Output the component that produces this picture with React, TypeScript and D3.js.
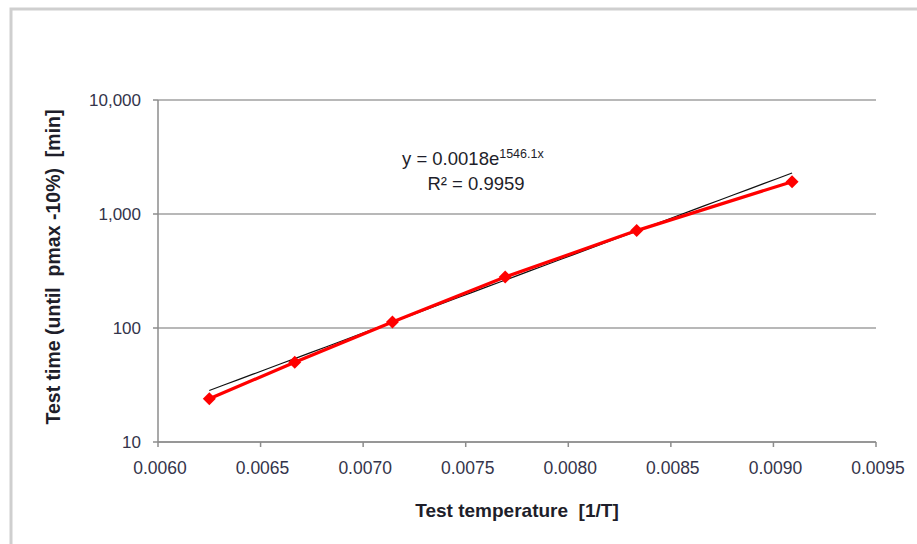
import React from 'react';
import * as d3 from 'd3';

// 1/T test temperatures and measured test times
const invTemp = [1 / 160, 1 / 150, 1 / 140, 1 / 130, 1 / 120, 1 / 110];
const testTime = [24, 50, 113, 280, 715, 1920];
const xTicks = [0.006, 0.0065, 0.007, 0.0075, 0.008, 0.0085, 0.009, 0.0095];
const yTicks = [10, 100, 1000, 10000];
// exponential trend fit
const fitA = 0.0018;
const fitB = 1546.1;

export default function App() {
  const width = 917;
  const height = 544;
  const margin = { top: 100, right: 41, bottom: 102, left: 158 };

  const x = d3.scaleLinear().domain([0.006, 0.0095]).range([margin.left, width - margin.right]);
  const y = d3.scaleLog().domain([10, 10000]).range([height - margin.bottom, margin.top]);

  const pts = invTemp.map((t, i) => [x(t), y(testTime[i])] as [number, number]);
  const line = d3.line();

  const x0 = invTemp[0];
  const x1 = invTemp[invTemp.length - 1];
  const trend = d3.range(0, 41).map(i => {
    const t = x0 + (x1 - x0) * i / 40;
    return [x(t), y(fitA * Math.exp(fitB * t))] as [number, number];
  });

  const fmt = d3.format(',');
  const font = '"Liberation Sans", Arial, sans-serif';
  const tickCol = '#34344a';

  return (
    <svg width={width} height={height} style={{ position: 'absolute', left: 0, top: 0 }}>
      <rect x={0} y={0} width={width} height={height} fill="#fff" />
      <rect x={11} y={9} width={width + 10} height={height + 10} fill="none" stroke="#cfcfcf" strokeWidth={3} />

      {/* gridlines */}
      {yTicks.map(v => (
        <line key={'g' + v} x1={margin.left} x2={width - margin.right} y1={y(v)} y2={y(v)}
          stroke="#a0a0a0" strokeWidth={1.5} />
      ))}
      {/* axes */}
      <line x1={margin.left} x2={margin.left} y1={margin.top} y2={height - margin.bottom} stroke="#8c8c8c" strokeWidth={1.5} />
      <line x1={margin.left} x2={width - margin.right} y1={height - margin.bottom} y2={height - margin.bottom} stroke="#8c8c8c" strokeWidth={1.5} />

      {yTicks.map(v => (
        <g key={'y' + v}>
          <line x1={margin.left - 5} x2={margin.left} y1={y(v)} y2={y(v)} stroke="#8c8c8c" strokeWidth={1.5} />
          <text x={margin.left - 17} y={y(v)} dy="0.35em" textAnchor="end" fontFamily={font} fontSize={17} fill={tickCol}>{fmt(v)}</text>
        </g>
      ))}
      {xTicks.map(v => (
        <g key={'x' + v}>
          <line x1={x(v)} x2={x(v)} y1={height - margin.bottom} y2={height - margin.bottom + 5} stroke="#8c8c8c" strokeWidth={1.5} />
          <text x={x(v) + 2} y={height - margin.bottom + 26} dy="0.35em" textAnchor="middle" fontFamily={font} fontSize={17.5} fill={tickCol}>{v.toFixed(4)}</text>
        </g>
      ))}

      <text x={517} y={517} textAnchor="middle" fontFamily={font} fontSize={19} fontWeight="bold" fill="#1e1e2a">
        Test temperature{'\u00a0\u00a0'}[1/T]
      </text>
      <text transform="translate(53,267) rotate(-90)" textAnchor="middle" dy="0.35em" fontFamily={font} fontSize={19.5} fontWeight="bold" fill="#1e1e2a">
        Test time (until{'\u00a0\u00a0'}pmax -10%){'\u00a0\u00a0'}[min]
      </text>

      {/* trend line */}
      <path d={line(trend) || ''} fill="none" stroke="#111" strokeWidth={1.2} />

      {/* data series */}
      <path d={line(pts) || ''} fill="none" stroke="#ff0000" strokeWidth={3.2} />
      {pts.map((p, i) => (
        <path key={'m' + i} d={`M${p[0]},${p[1] - 6.5}L${p[0] + 6.5},${p[1]}L${p[0]},${p[1] + 6.5}L${p[0] - 6.5},${p[1]}Z`} fill="#ff0000" />
      ))}

      <text x={402} y={165} fontFamily={font} fontSize={18.5} fill="#1e1e2a">
        y = 0.0018e<tspan fontSize={12.5} dy={-7}>1546.1x</tspan>
      </text>
      <text x={476} y={190} textAnchor="middle" fontFamily={font} fontSize={18.5} fill="#1e1e2a">R² = 0.9959</text>
    </svg>
  );
}
